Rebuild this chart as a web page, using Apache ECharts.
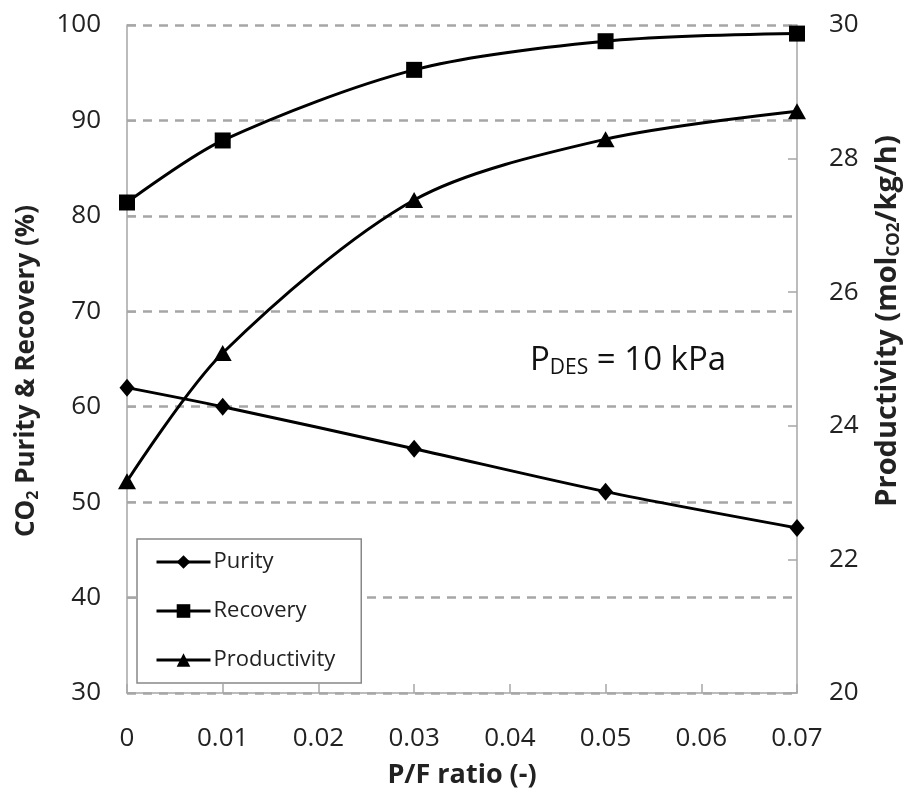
<!DOCTYPE html>
<html lang="en">
<head>
    <meta charset="UTF-8">
    <title>P/F ratio</title>
    <style>
        html, body { height: 100%; margin: 0; padding: 0; background: #fff; }
        #main { width: 905px; height: 796px; }
    </style>
</head>
<body>
<div id="main"></div>
<script src="https://cdn.jsdelivr.net/npm/echarts@6/dist/echarts.min.js"></script>
<script type="text/javascript">
    // data
    var pfRatio = [0, 0.01, 0.03, 0.05, 0.07];
    var purity = [62.0, 60.0, 55.6, 51.1, 47.3];
    var recovery = [81.4, 87.9, 95.3, 98.3, 99.1];
    var productivity = [23.17, 25.09, 27.38, 28.29, 28.71];

    function pairs(ys) {
        return pfRatio.map(function (x, i) { return [x, ys[i]]; });
    }

    var font = 'Open Sans';
    var myChart = echarts.init(document.getElementById('main'));

    function nameRich(size) {
        return {
            b: { fontFamily: font, fontSize: size, fontWeight: 'bold', color: '#222' },
            s: { fontFamily: font, fontSize: Math.round(size * 0.6), fontWeight: 'bold', color: '#222', padding: [Math.round(size * 0.45), 0, 0, 0] }
        };
    }

    var option = {
        backgroundColor: '#fff',
        textStyle: { fontFamily: font },
        grid: { left: 127, right: 108, top: 25, bottom: 103, outerBoundsMode: 'none', containLabel: false },
        legend: {
            orient: 'vertical',
            left: 137,
            top: 539,
            padding: [12, 26, 12, 18],
            itemGap: 27,
            itemWidth: 54,
            itemHeight: 17,
            backgroundColor: '#fff',
            borderColor: '#888',
            borderWidth: 1.5,
            lineStyle: { width: 3 },
            textStyle: { fontFamily: font, fontSize: 22, color: '#222', padding: [0, 0, 0, -2] },
            data: ['Purity', 'Recovery', 'Productivity']
        },
        xAxis: {
            type: 'value',
            min: 0, max: 0.07, interval: 0.01,
            name: 'P/F ratio (-)',
            nameLocation: 'middle',
            nameGap: 69,
            nameTextStyle: { fontFamily: font, fontSize: 27, fontWeight: 'bold', color: '#222' },
            axisLine: { lineStyle: { color: '#a6a6a6', width: 1.5 } },
            axisTick: { inside: true, length: 9, lineStyle: { color: '#a6a6a6', width: 1.5 } },
            axisLabel: {
                margin: 33, fontSize: 26, color: '#222',
                formatter: function (v) { return v === 0 ? '0' : v.toFixed(2); }
            },
            splitLine: { show: false }
        },
        yAxis: [
            {
                type: 'value',
                min: 30, max: 100, interval: 10,
                position: 'left',
                name: '{b|CO}{s|2}{b| Purity & Recovery (%)}',
                nameLocation: 'middle',
                nameGap: 86,
                nameRotate: 90,
                nameTextStyle: { rich: nameRich(26), padding: [0, 24, 0, 0] },
                axisLine: { show: true, lineStyle: { color: '#a6a6a6', width: 1.5 } },
                axisTick: { show: true, inside: true, length: 9, lineStyle: { color: '#a6a6a6', width: 1.5 } },
                axisLabel: { margin: 26, fontSize: 26, color: '#222' },
                splitLine: { show: true, lineStyle: { color: '#a6a6a6', width: 2.5, type: [9, 7] } }
            },
            {
                type: 'value',
                min: 20, max: 30, interval: 2,
                position: 'right',
                name: '{b|Productivity (mol}{s|CO2}{b|/kg/h)}',
                nameLocation: 'middle',
                nameGap: 76,
                nameRotate: 90,
                nameTextStyle: { rich: nameRich(29), padding: [0, 0, 0, 76] },
                axisLine: { show: true, lineStyle: { color: '#a6a6a6', width: 1.5 } },
                axisTick: { show: true, inside: true, length: 9, lineStyle: { color: '#a6a6a6', width: 1.5 } },
                axisLabel: { margin: 32, fontSize: 26, color: '#222' },
                splitLine: { show: false }
            }
        ],
        graphic: [
            {
                type: 'text',
                left: 530,
                top: 344,
                style: {
                    text: '{n|P}{s|DES}{n| = 10 kPa}',
                    rich: {
                        n: { fontFamily: font, fontSize: 33, fill: '#111' },
                        s: { fontFamily: font, fontSize: 21, fill: '#111', padding: [15, 0, 0, 0] }
                    }
                }
            }
        ],
        series: [
            {
                name: 'Purity',
                type: 'line',
                yAxisIndex: 0,
                smooth: 0.3,
                symbol: 'diamond',
                symbolSize: [15, 18],
                lineStyle: { color: '#000', width: 3 },
                itemStyle: { color: '#000' },
                data: pairs(purity)
            },
            {
                name: 'Recovery',
                type: 'line',
                yAxisIndex: 0,
                smooth: 0.3,
                symbol: 'rect',
                symbolSize: 16,
                lineStyle: { color: '#000', width: 3 },
                itemStyle: { color: '#000' },
                data: pairs(recovery)
            },
            {
                name: 'Productivity',
                type: 'line',
                yAxisIndex: 1,
                smooth: 0.3,
                symbol: 'triangle',
                symbolSize: [18, 16],
                lineStyle: { color: '#000', width: 3 },
                itemStyle: { color: '#000' },
                data: pairs(productivity)
            }
        ]
    };

    myChart.setOption(option);
</script>
</body>
</html>
